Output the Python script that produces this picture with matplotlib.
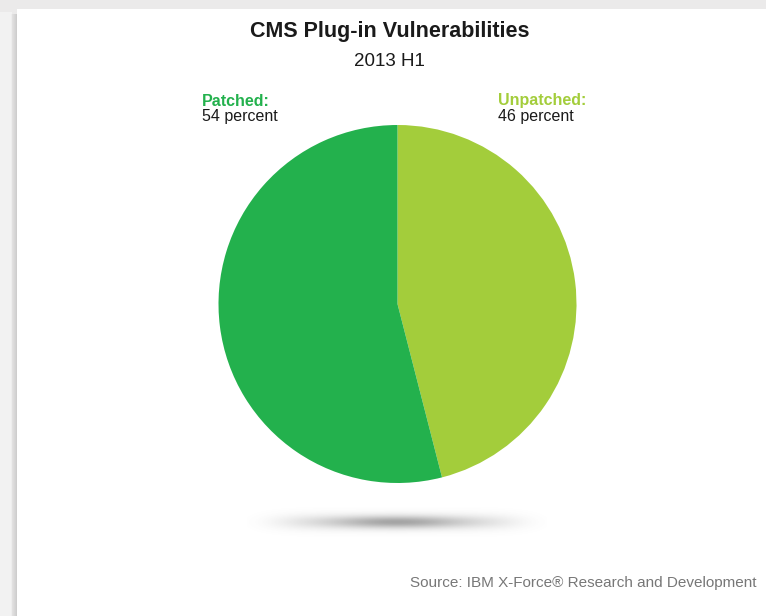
import numpy as np
import matplotlib
matplotlib.use("Agg")
import matplotlib.pyplot as plt
from matplotlib.patches import Rectangle

plt.rcParams['font.family'] = ['Liberation Sans', 'DejaVu Sans']

# Data
categories = ["Unpatched", "Patched"]
values = [46, 54]
colors = ["#a3cd3b", "#23b14d"]
title = "CMS Plug-in Vulnerabilities"
subtitle = "2013 H1"
source = "Source: IBM X-Force\u00ae Research and Development"

W, H = 766, 616
fig = plt.figure(figsize=(W / 100, H / 100), dpi=100)

# Background in pixel coordinates
bg = fig.add_axes([0, 0, 1, 1])
bg.set_xlim(0, W)
bg.set_ylim(H, 0)
bg.axis('off')
bg.add_patch(Rectangle((0, 0), W, H, color="#ebeaea", zorder=0))
bg.add_patch(Rectangle((0, 12), 12, H, color="#f2f2f2", lw=0, zorder=0.5))
for i, a in enumerate(np.linspace(0.02, 0.12, 6)):
    bg.add_patch(Rectangle((11 + i, 14), 1, H, color="black", alpha=a, lw=0, zorder=1))
bg.add_patch(Rectangle((17, 9), W - 17, H, color="white", lw=0, zorder=2))

# soft shadow under the pie
xs = np.linspace(-150, 150, 400)
ys = np.linspace(-20, 20, 80)
X, Y = np.meshgrid(xs, ys)
alpha = 0.40 * np.exp(-(X / 65) ** 2 - (Y / 6) ** 2) + 0.15 * np.exp(-(X / 122) ** 6 - (Y / 8) ** 2)
img = np.zeros((len(ys), len(xs), 4))
img[..., 0:3] = 0.35
img[..., 3] = np.clip(alpha, 0, 1)
bg.imshow(img, extent=(397 - 150, 397 + 150, 522 + 20, 522 - 20), zorder=3, interpolation='bilinear')
bg.set_xlim(0, W)
bg.set_ylim(H, 0)
bg.set_aspect('auto')

# texts
bg.text(390, 32, title, ha='center', va='center', fontsize=15.5, fontweight='bold', color='#1a1a1a', zorder=5)
bg.text(389, 61, subtitle, ha='center', va='center', fontsize=13.5, color='#1a1a1a', zorder=5)
bg.text(202, 101, categories[1] + ":", ha='left', va='center', fontsize=11.5, fontweight='bold', color=colors[1], zorder=5)
bg.text(202, 117, f"{values[1]} percent", ha='left', va='center', fontsize=11.5, color='#1a1a1a', zorder=5)
bg.text(498, 101, categories[0] + ":", ha='left', va='center', fontsize=11.5, fontweight='bold', color=colors[0], zorder=5)
bg.text(498, 117, f"{values[0]} percent", ha='left', va='center', fontsize=11.5, color='#1a1a1a', zorder=5)
bg.text(757, 583, source, ha='right', va='center', fontsize=11, color='#777777', zorder=5)

# pie
cx, cy, r = 397.5, 304, 179
ax = fig.add_axes([(cx - r) / W, (H - cy - r) / H, 2 * r / W, 2 * r / H])
ax.pie(values, colors=colors, startangle=90, counterclock=False, radius=1,
       wedgeprops=dict(linewidth=0))
ax.set_xlim(-1, 1)
ax.set_ylim(-1, 1)
ax.set_aspect('equal')
ax.axis('off')

fig.savefig("out.png", dpi=100)
